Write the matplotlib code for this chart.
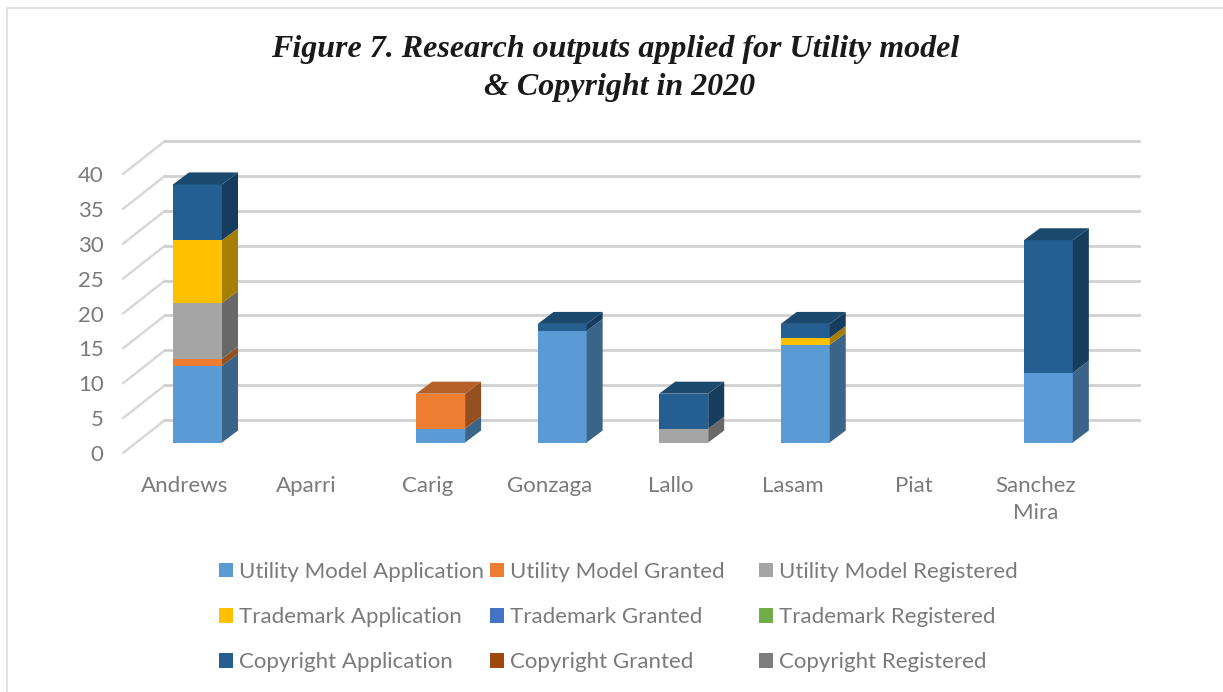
import numpy as np
import matplotlib
matplotlib.use('Agg')
import matplotlib.pyplot as plt

campuses = ['Andrews', 'Aparri', 'Carig', 'Gonzaga', 'Lallo', 'Lasam', 'Piat', 'Sanchez\nMira']

um_application = [11, 0, 2, 16, 0, 14, 0, 10]
um_granted = [1, 0, 5, 0, 0, 0, 0, 0]
um_registered = [8, 0, 0, 0, 2, 0, 0, 0]
tm_application = [9, 0, 0, 0, 0, 1, 0, 0]
tm_granted = [0, 0, 0, 0, 0, 0, 0, 0]
tm_registered = [0, 0, 0, 0, 0, 0, 0, 0]
cr_application = [8, 0, 0, 1, 5, 2, 0, 19]
cr_granted = [0, 0, 0, 0, 0, 0, 0, 0]
cr_registered = [0, 0, 0, 0, 0, 0, 0, 0]

series = [um_application, um_granted, um_registered,
          tm_application, tm_granted, tm_registered,
          cr_application, cr_granted, cr_registered]
names = ['Utility Model Application', 'Utility Model Granted', 'Utility Model Registered',
         'Trademark Application', 'Trademark Granted', 'Trademark Registered',
         'Copyright Application', 'Copyright Granted', 'Copyright Registered']
front = ['#5B9BD5', '#ED7D31', '#A5A5A5', '#FFC000', '#4472C4', '#70AD47', '#255E91', '#9E480E', '#7C7C7C']
side = ['#3A6589', '#95501F', '#686868', '#A67E00', '#2B4A7C', '#476E2D', '#163D5E', '#642D09', '#3F3F3F']
top = ['#4A7DAB', '#B46026', '#848484', '#CC9A00', '#365B9D', '#5A8A39', '#1C4A6F', '#7E390B', '#4F4F4F']

W, H = 1223, 692
fig = plt.figure(figsize=(W / 100, H / 100), dpi=100)

# pixel geometry of the fake 3d box
px_unit = 6.975
px_cat = 121.55
x0_px, y0_px = 197.5, 442.5
left, right, bottom, upper = 123, 1139, 453, 141
ax = fig.add_axes([left / W, 1 - bottom / H, (right - left) / W, (bottom - upper) / H])
ax.set_xlim((left - x0_px) / px_cat, (right - x0_px) / px_cat)
ax.set_ylim((y0_px - bottom) / px_unit, (y0_px - upper) / px_unit)
for s in ax.spines.values():
    s.set_visible(False)

wall_dy = (bottom - 420) / px_unit
wall_dx = (165 - left) / px_cat
low = (y0_px - bottom) / px_unit
ticks = np.arange(0, 45, 5)
for t in ticks:
    ax.plot([ax.get_xlim()[0], ax.get_xlim()[0] + wall_dx], [low + t, low + t + wall_dy],
            color='#D8D8D8', lw=1.8, zorder=1, clip_on=False, solid_capstyle='round')
    ax.plot([ax.get_xlim()[0] + wall_dx, ax.get_xlim()[1]], [low + t + wall_dy] * 2,
            color='#D0D0D0', lw=2, zorder=1, clip_on=False)

x = np.arange(len(campuses))
bar_w = 49 / px_cat
dx = 16 / px_cat
dy = 12 / px_unit
totals = np.sum(series, axis=0)
bottoms = np.zeros(len(campuses))
handles = []
for vals, name, c, cs, ct in zip(series, names, front, side, top):
    vals = np.array(vals, dtype=float)
    bars = ax.bar(x, vals, bar_w, bottom=bottoms, color=c, label=name, zorder=3, linewidth=0)
    handles.append(bars)
    for i in range(len(x)):
        if vals[i] == 0:
            continue
        r = x[i] + bar_w / 2
        b0, b1 = bottoms[i], bottoms[i] + vals[i]
        ax.fill([r, r + dx, r + dx, r], [b0, b0 + dy, b1 + dy, b1], color=cs, lw=0, zorder=3)
        if b1 == totals[i]:
            l = x[i] - bar_w / 2
            ax.fill([l, r, r + dx, l + dx], [b1, b1, b1 + dy, b1 + dy], color=ct, lw=0, zorder=3)
    bottoms += vals

text_color = '#7A7A7A'
ax.set_yticks(low + ticks, [str(t) for t in ticks], fontfamily='Lato', fontsize=16, color=text_color)
ax.set_xticks(x - 12.5 / px_cat, campuses, fontfamily='Lato', fontsize=16, color=text_color,
              linespacing=1.45, va='top')
ax.tick_params(axis='both', length=0)
ax.tick_params(axis='y', pad=14)
ax.tick_params(axis='x', pad=16.5)

# two lines are not centred on each other in the original
for line, xc, yc in [('Figure 7. Research outputs applied for Utility model', 615.5, 49),
                     ('& Copyright in 2020', 619.5, 87)]:
    fig.text(xc / W, 1 - yc / H, line, ha='center', va='center', fontfamily='Liberation Serif',
             fontsize=23, fontweight='bold', fontstyle='italic', color='#1A1A1A')

# legend laid out row by row, one legend per column like the original
for col, xpos in enumerate([219, 490, 759]):
    leg = fig.legend(handles[col::3], names[col::3], loc='upper left',
                     bbox_to_anchor=(xpos / W, 1 - 562 / H), frameon=False,
                     prop={'family': 'Lato', 'size': 16}, labelcolor=text_color,
                     handlelength=0.63, handleheight=0.63, handletextpad=0.27,
                     labelspacing=1.13, borderpad=0, borderaxespad=0)

# chart frame: only the top and left edges are in the crop
fig.add_artist(plt.Line2D([7 / W, 1], [1 - 8 / H, 1 - 8 / H], color='#DDDDDD', lw=1.2))
fig.add_artist(plt.Line2D([7 / W, 7 / W], [0, 1 - 8 / H], color='#DDDDDD', lw=1.2))

fig.savefig('out.png', dpi=100)
